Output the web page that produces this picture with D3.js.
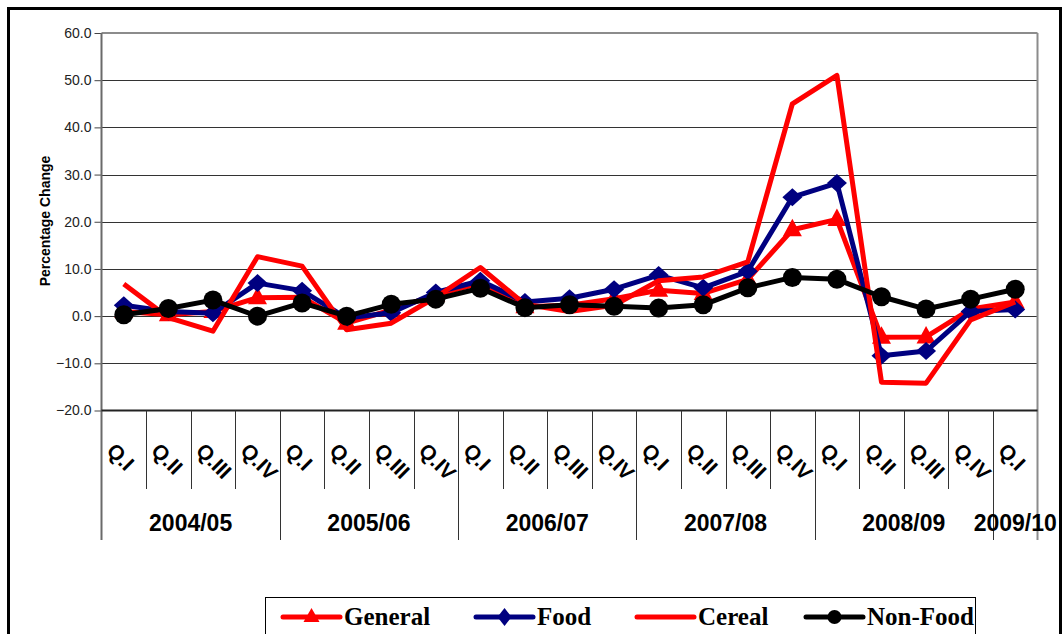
<!DOCTYPE html>
<html>
<head>
<meta charset="utf-8">
<script src="https://cdn.jsdelivr.net/npm/d3@7"></script>
<style>
body { margin: 0; background: #fff; }
</style>
</head>
<body>
<script>
// quarterly percentage change chart

var quarters = ["Q.I","Q.II","Q.III","Q.IV","Q.I","Q.II","Q.III","Q.IV","Q.I","Q.II","Q.III","Q.IV",
                "Q.I","Q.II","Q.III","Q.IV","Q.I","Q.II","Q.III","Q.IV","Q.I"];
var years = ["2004/05","2005/06","2006/07","2007/08","2008/09","2009/10"];
var yearSpan = [4,4,4,4,4,1];

var general = [1.0,0.3,1.0,3.9,4.0,-1.5,1.3,4.5,7.0,2.0,2.3,3.7,5.5,4.8,7.8,18.3,20.5,-4.5,-4.4,1.5,3.0];
var food    = [2.3,1.0,0.6,7.0,5.4,-0.4,0.7,5.0,7.5,3.0,3.8,5.7,8.7,6.0,9.5,25.2,28.2,-8.4,-7.4,1.0,1.4];
var cereal  = [6.8,-0.3,-3.2,12.6,10.6,-2.9,-1.5,4.0,10.3,2.5,1.0,2.3,7.5,8.3,11.5,45.0,51.0,-14.0,-14.2,-0.8,3.0];
var nonfood = [0.3,1.6,3.4,0.0,2.8,0.0,2.5,3.6,5.9,1.8,2.4,2.1,1.7,2.4,6.0,8.2,7.8,4.1,1.5,3.6,5.7];

var yTicks = [-20,-10,0,10,20,30,40,50,60];

var width = 1063;
var height = 634;

var svg = d3.select("body").append("svg")
    .attr("width",width)
    .attr("height",height);

// outer frame
svg.append("rect")
    .attr("x",8.5).attr("y",8.5)
    .attr("width",1052).attr("height",700)
    .attr("fill","none")
    .attr("stroke","#000")
    .attr("stroke-width",3);

var plotLeft = 101.5, plotRight = 1037.5, plotTop = 33, plotBottom = 410.5;

var x = d3.scaleBand()
    .domain(d3.range(quarters.length))
    .range([plotLeft,plotRight]);

var y = d3.scaleLinear()
    .domain([-20,60])
    .range([plotBottom,plotTop]);

// gridlines
svg.selectAll(".grid").data(yTicks.slice(1,-1)).enter().append("line")
    .attr("x1",plotLeft).attr("x2",plotRight)
    .attr("y1",d => Math.round(y(d))+0.5).attr("y2",d => Math.round(y(d))+0.5)
    .attr("stroke","#333")
    .attr("stroke-width",1);

// plot border top/right
svg.append("line").attr("x1",plotLeft).attr("x2",plotRight).attr("y1",plotTop).attr("y2",plotTop)
    .attr("stroke","#8c8c8c").attr("stroke-width",2);
svg.append("line").attr("x1",plotRight).attr("x2",plotRight).attr("y1",plotTop).attr("y2",540)
    .attr("stroke","#8c8c8c").attr("stroke-width",2);

// y axis
var yAxis = d3.axisLeft(y).tickValues(yTicks).tickFormat(d3.format(".1f")).tickSize(7).tickPadding(3);
var gy = svg.append("g").attr("transform","translate(" + plotLeft + ",0)").call(yAxis);
gy.select(".domain").remove();
gy.selectAll(".tick line").attr("stroke","#444");
gy.selectAll("text")
    .attr("font-family","Liberation Sans, Arial, sans-serif")
    .attr("font-size",14)
    .attr("fill","#222");

svg.append("line").attr("x1",plotLeft).attr("x2",plotLeft).attr("y1",plotTop).attr("y2",540)
    .attr("stroke","#6a6a6a").attr("stroke-width",2);

// x axis line
svg.append("line").attr("x1",plotLeft).attr("x2",plotRight).attr("y1",plotBottom).attr("y2",plotBottom)
    .attr("stroke","#222").attr("stroke-width",2);

// quarter ticks
svg.selectAll(".qtick").data(d3.range(1,quarters.length)).enter().append("line")
    .attr("x1",d => Math.round(x(d))+0.5).attr("x2",d => Math.round(x(d))+0.5)
    .attr("y1",plotBottom).attr("y2",489)
    .attr("stroke","#333");

// year separators
var yearStart = [];
var acc = 0;
for (var i = 0; i < years.length; i++) { yearStart.push(acc); acc += yearSpan[i]; }

svg.selectAll(".ysep").data(yearStart.slice(1)).enter().append("line")
    .attr("x1",d => Math.round(x(d))+0.5).attr("x2",d => Math.round(x(d))+0.5)
    .attr("y1",plotBottom).attr("y2",540)
    .attr("stroke","#333");

// quarter labels
svg.selectAll(".qlab").data(quarters).enter().append("text")
    .attr("transform",(d,i) => "translate(" + (x(i)+4) + ",452) rotate(45)")
    .attr("font-family","Liberation Sans, Arial, sans-serif")
    .attr("font-weight","bold")
    .attr("font-size",21)
    .text(d => d);

// year labels
svg.selectAll(".ylab").data(years).enter().append("text")
    .attr("x",(d,i) => x(yearStart[i]) + x.bandwidth()*yearSpan[i]/2)
    .attr("y",531)
    .attr("text-anchor","middle")
    .attr("font-family","Liberation Sans, Arial, sans-serif")
    .attr("font-weight","bold")
    .attr("font-size",23)
    .text(d => d);

// y title
svg.append("text")
    .attr("transform","translate(50,221) rotate(-90)")
    .attr("text-anchor","middle")
    .attr("font-family","Liberation Sans, Arial, sans-serif")
    .attr("font-weight","bold")
    .attr("font-size",14)
    .text("Percentage Change");

var cx = (d,i) => x(i) + x.bandwidth()/2;
var line = d3.line().x(cx).y(d => y(d));

var triPath = "M0,-11L9.5,6.5L-9.5,6.5Z";
var diaPath = "M0,-9L10,0L0,9L-10,0Z";

// General
svg.append("path").datum(general).attr("d",line)
    .attr("fill","none").attr("stroke","#ff0000").attr("stroke-width",5).attr("stroke-linejoin","round");
svg.selectAll(".gm").data(general).enter().append("path")
    .attr("d",triPath)
    .attr("transform",(d,i) => "translate(" + cx(d,i) + "," + y(d) + ")")
    .attr("fill","#ff0000");

// Food
svg.append("path").datum(food).attr("d",line)
    .attr("fill","none").attr("stroke","#000080").attr("stroke-width",5).attr("stroke-linejoin","round");
svg.selectAll(".fm").data(food).enter().append("path")
    .attr("d",diaPath)
    .attr("transform",(d,i) => "translate(" + cx(d,i) + "," + y(d) + ")")
    .attr("fill","#000080");

// Cereal
svg.append("path").datum(cereal).attr("d",line)
    .attr("fill","none").attr("stroke","#ff0000").attr("stroke-width",5).attr("stroke-linejoin","round");

// Non-Food
svg.append("path").datum(nonfood).attr("d",line)
    .attr("fill","none").attr("stroke","#000").attr("stroke-width",5).attr("stroke-linejoin","round");
svg.selectAll(".nm").data(nonfood).enter().append("circle")
    .attr("cx",cx).attr("cy",d => y(d)).attr("r",9.5)
    .attr("fill","#000");

// legend
svg.append("rect")
    .attr("x",265.5).attr("y",597.5)
    .attr("width",710).attr("height",60)
    .attr("fill","#fff").attr("stroke","#000");

var legNames = ["General","Food","Cereal","Non-Food"];
var legColors = ["#ff0000","#000080","#ff0000","#000"];
var legX = [283,476,637,806];
var ly = 617;

legNames.forEach(function(name,i){
    svg.append("line")
        .attr("x1",legX[i]).attr("x2",legX[i]+57)
        .attr("y1",ly).attr("y2",ly)
        .attr("stroke",legColors[i]).attr("stroke-width",5).attr("stroke-linecap","round");
    var mx = legX[i] + 28.5;
    if (i == 0) {
        svg.append("path").attr("d","M0,-9L8,5L-8,5Z").attr("transform","translate(" + mx + "," + ly + ")").attr("fill",legColors[i]);
    } else if (i == 1) {
        svg.append("path").attr("d","M0,-9L7,0L0,9L-7,0Z").attr("transform","translate(" + mx + "," + ly + ")").attr("fill",legColors[i]);
    } else if (i == 3) {
        svg.append("circle").attr("cx",mx).attr("cy",ly).attr("r",7).attr("fill",legColors[i]);
    }
    svg.append("text")
        .attr("x",legX[i]+61).attr("y",ly+8)
        .attr("font-family","Liberation Serif, Times New Roman, serif")
        .attr("font-weight","bold")
        .attr("font-size",25)
        .text(name);
});
</script>
</body>
</html>
